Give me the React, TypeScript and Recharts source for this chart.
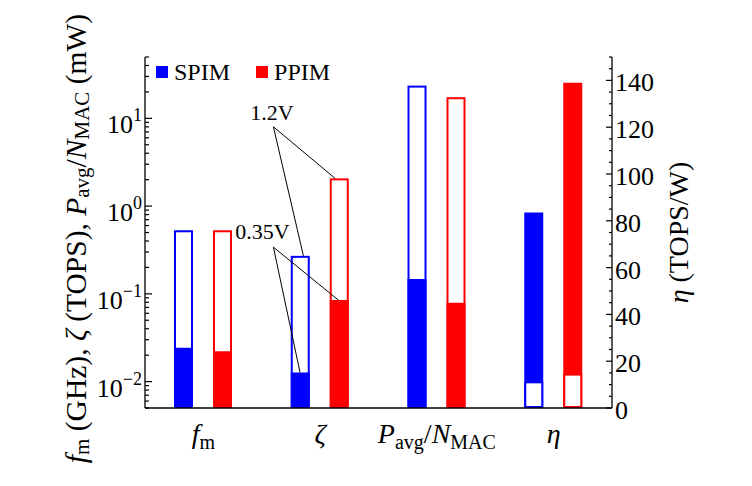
import React from "react";
import {
	Bar,
	ComposedChart,
	Label,
	Legend,
	ReferenceDot,
	ReferenceLine,
	XAxis,
	YAxis,
} from "recharts";

const FONT = "'Liberation Serif', 'Times New Roman', serif";
const BLUE = "#0000ff";
const RED = "#ff0000";

// categories on the x axis
const categories = ["fm", "zeta", "pavg", "eta"];
// centre of each category in plain category units (for the annotation axis)
const categoryPos = [0.5, 1.5, 2.5, 3.5];

// left (log) axis: fm (GHz), zeta (TOPS), Pavg/NMAC (mW)
const spim12 = [0.53, 0.271, 23.6, null];
const spim035 = [0.0243, 0.0127, 0.148, null];
const ppim12 = [0.53, 2.07, 17.4, null];
const ppim035 = [0.0222, 0.085, 0.079, null];

// right axis: eta (TOPS/W)
const spimEta035 = [null, null, null, 83.6];
const spimEta12 = [null, null, null, 11.4];
const ppimEta035 = [null, null, null, 139];
const ppimEta12 = [null, null, null, 14.7];

const seriesNames = ["SPIM", "PPIM"];
const seriesColors = [BLUE, RED];

const leftTicks = [
	0.005, 0.006, 0.007, 0.008, 0.009, 0.01, 0.02, 0.03, 0.04, 0.05, 0.06, 0.07,
	0.08, 0.09, 0.1, 0.2, 0.3, 0.4, 0.5, 0.6, 0.7, 0.8, 0.9, 1, 2, 3, 4, 5, 6, 7,
	8, 9, 10, 20, 30, 40, 50,
];
const rightTicks = [
	0, 5, 10, 15, 20, 25, 30, 35, 40, 45, 50, 55, 60, 65, 70, 75, 80, 85, 90, 95,
	100, 105, 110, 115, 120, 125, 130, 135, 140, 145, 150,
];

// voltage annotations (x in category units, y on the log axis)
const noteLabels = ["1.2V", "0.35V"];
const noteTextPos = [
	{ x: 1.088, y: 11.6 },
	{ x: 1.007, y: 0.52 },
];
const noteAnchor = [
	{ x: 1.1, y: 8.0 },
	{ x: 1.1, y: 0.34 },
];
const noteTargets = [
	[
		{ x: 1.628, y: ppim12[1] },
		{ x: 1.357, y: spim12[1] },
	],
	[
		{ x: 1.656, y: ppim035[1] },
		{ x: 1.328, y: spim035[1] },
	],
];

const data = categories.map((cat, i) => ({
	cat,
	pos: categoryPos[i],
	spim12: spim12[i],
	spim035: spim035[i],
	ppim12: ppim12[i],
	ppim035: ppim035[i],
	spimEta035: spimEta035[i],
	spimEta12: spimEta12[i],
	ppimEta035: ppimEta035[i],
	ppimEta12: ppimEta12[i],
}));

const outline = (color: string) => (props: any) => {
	const { x, y, width, height } = props;
	if (!height || height <= 0 || isNaN(y)) return <g />;
	return (
		<rect
			x={x + 1}
			y={y + 1}
			width={width - 2}
			height={height - 2}
			fill="#fff"
			stroke={color}
			strokeWidth={2}
		/>
	);
};

function LeftTick({ x, y, payload }: any) {
	const v = payload.value;
	const e = Math.round(Math.log10(v));
	const major = Math.abs(Math.log10(v) - e) < 1e-6;
	return (
		<g>
			<line
				x1={x}
				x2={x + (major ? 7 : 4)}
				y1={y}
				y2={y}
				stroke="#000"
				strokeWidth={1.2}
			/>
			{major && (
				<text
					x={x - 3}
					y={y + 15}
					textAnchor="end"
					fontSize={26}
					fontFamily={FONT}
					fill="#000"
				>
					10
					<tspan dy={-12} fontSize={18}>
						{e < 0 ? `\u2212${-e}` : `${e}`}
					</tspan>
				</text>
			)}
		</g>
	);
}

function RightTick({ x, y, payload }: any) {
	const v = payload.value;
	const major = v % 20 === 0 && v < 150;
	return (
		<g>
			<line
				x1={x}
				x2={x - (major ? 6 : 3)}
				y1={y}
				y2={y}
				stroke="#000"
				strokeWidth={1.2}
			/>
			{major && (
				<text
					x={x + 3}
					y={y + 11}
					fontSize={26}
					fontFamily={FONT}
					fill="#000"
				>
					{v}
				</text>
			)}
		</g>
	);
}

function CatTick({ x, y, payload }: any) {
	const base = {
		x,
		y: y + 35,
		textAnchor: "middle" as const,
		fontSize: 28,
		fontFamily: FONT,
		fill: "#000",
		style: { whiteSpace: "pre" as const },
	};
	switch (payload.value) {
		case "fm":
			return (
				<text {...base}>
					<tspan fontStyle="italic">f</tspan>
					<tspan fontSize={20} dy={6}>m</tspan>
				</text>
			);
		case "zeta":
			return (
				<text {...base}>
					<tspan fontStyle="italic">ζ</tspan>
				</text>
			);
		case "pavg":
			return (
				<text {...base}>
					<tspan fontStyle="italic">P</tspan>
					<tspan fontSize={20} dy={6}>avg</tspan>
					<tspan dy={-6}>/</tspan>
					<tspan fontStyle="italic">N</tspan>
					<tspan fontSize={20} dy={6}>MAC</tspan>
				</text>
			);
		default:
			return (
				<text {...base}>
					<tspan fontStyle="italic">η</tspan>
				</text>
			);
	}
}

function LeftTitle({ viewBox }: any) {
	const cx = viewBox.x + 11;
	const cy = viewBox.y + viewBox.height / 2 + 6;
	return (
		<text
			transform={`translate(${cx},${cy}) rotate(-90)`}
			textAnchor="middle"
			dominantBaseline="central"
			fontSize={29.5}
			fontFamily={FONT}
			fill="#000"
			style={{ whiteSpace: "pre" }}
		>
			<tspan fontStyle="italic">f</tspan>
			<tspan fontSize={21} dy={6}>m</tspan>
			<tspan dy={-6}> (GHz), </tspan>
			<tspan fontStyle="italic">ζ</tspan>
			<tspan> (TOPS), </tspan>
			<tspan fontStyle="italic">P</tspan>
			<tspan fontSize={21} dy={6}>avg</tspan>
			<tspan dy={-6}>/</tspan>
			<tspan fontStyle="italic">N</tspan>
			<tspan fontSize={21} dy={6}>MAC</tspan>
			<tspan dy={-6}> (mW)</tspan>
		</text>
	);
}

function RightTitle({ viewBox }: any) {
	const cx = viewBox.x + 66;
	const cy = viewBox.y + viewBox.height / 2;
	return (
		<text
			transform={`translate(${cx},${cy}) rotate(-90)`}
			textAnchor="middle"
			dominantBaseline="central"
			fontSize={28}
			fontFamily={FONT}
			fill="#000"
			style={{ whiteSpace: "pre" }}
		>
			<tspan fontStyle="italic">η</tspan>
			<tspan> (TOPS/W)</tspan>
		</text>
	);
}

function LegendContent() {
	return (
		<div
			style={{
				display: "flex",
				alignItems: "center",
				fontFamily: FONT,
				fontSize: 24,
				lineHeight: "24px",
				color: "#000",
			}}
		>
			{seriesNames.map((name, i) => (
				<div
					key={name}
					style={{ display: "flex", alignItems: "center", marginRight: 26 }}
				>
					<div
						style={{
							width: 12,
							height: 12,
							background: seriesColors[i],
							marginRight: 6,
						}}
					/>
					<span>{name}</span>
				</div>
			))}
		</div>
	);
}

export default function App() {
	const axisLine = { stroke: "#000", strokeWidth: 1.3 };
	return (
		<div
			style={{
				position: "absolute",
				left: 0,
				top: 0,
				width: 752,
				height: 486,
				background: "#fff",
			}}
		>
			<ComposedChart
				width={752}
				height={486}
				data={data}
				margin={{ top: 57, right: 60, bottom: 38, left: 65 }}
				barGap={20}
			>
				<XAxis
					xAxisId="f"
					dataKey="cat"
					height={40}
					axisLine={axisLine}
					tickLine={false}
					tickSize={0}
					tickMargin={0}
					tick={<CatTick />}
					interval={0}
				/>
				<XAxis xAxisId="o" dataKey="cat" hide />
				<XAxis xAxisId="fe" dataKey="cat" hide />
				<XAxis xAxisId="oe" dataKey="cat" hide />
				<XAxis
					xAxisId="top"
					dataKey="cat"
					orientation="top"
					height={0}
					tick={false}
					tickLine={false}
					axisLine={axisLine}
				/>
				<XAxis
					xAxisId="u"
					dataKey="pos"
					type="number"
					scale="linear"
					domain={[0, 4]}
					allowDataOverflow
					hide
				/>
				<YAxis
					yAxisId="left"
					scale="log"
					type="number"
					domain={[0.005, 50]}
					allowDataOverflow
					ticks={leftTicks}
					interval={0}
					tick={<LeftTick />}
					tickLine={false}
					tickSize={0}
					tickMargin={0}
					axisLine={axisLine}
					width={80}
				>
					<Label content={(p: any) => <LeftTitle viewBox={p.viewBox} />} />
				</YAxis>
				<YAxis
					yAxisId="right"
					orientation="right"
					type="number"
					domain={[0, 150]}
					allowDataOverflow
					ticks={rightTicks}
					interval={0}
					tick={<RightTick />}
					tickLine={false}
					tickSize={0}
					tickMargin={0}
					axisLine={axisLine}
					width={80}
				>
					<Label content={(p: any) => <RightTitle viewBox={p.viewBox} />} />
				</YAxis>
				<Legend
					layout="horizontal"
					verticalAlign="middle"
					align="center"
					wrapperStyle={{ top: 60, left: 156, width: "auto", height: "auto" }}
					content={<LegendContent />}
				/>

				{/* 1.2V outlines behind the 0.35V fills */}
				<Bar xAxisId="o" yAxisId="left" dataKey="spim12" barSize={19} shape={outline(BLUE)} isAnimationActive={false} />
				<Bar xAxisId="o" yAxisId="left" dataKey="ppim12" barSize={19} shape={outline(RED)} isAnimationActive={false} />
				<Bar xAxisId="f" yAxisId="left" dataKey="spim035" barSize={19} fill={BLUE} isAnimationActive={false} />
				<Bar xAxisId="f" yAxisId="left" dataKey="ppim035" barSize={19} fill={RED} isAnimationActive={false} />

				{/* eta: 0.35V fill, 1.2V outline on top */}
				<Bar xAxisId="fe" yAxisId="right" dataKey="spimEta035" barSize={19} fill={BLUE} isAnimationActive={false} />
				<Bar xAxisId="fe" yAxisId="right" dataKey="ppimEta035" barSize={19} fill={RED} isAnimationActive={false} />
				<Bar xAxisId="oe" yAxisId="right" dataKey="spimEta12" barSize={19} shape={outline(BLUE)} isAnimationActive={false} />
				<Bar xAxisId="oe" yAxisId="right" dataKey="ppimEta12" barSize={19} shape={outline(RED)} isAnimationActive={false} />

				{noteTargets.map((targets, i) =>
					targets.map((t, j) => (
						<ReferenceLine
							key={`n${i}${j}`}
							xAxisId="u"
							yAxisId="left"
							segment={[noteAnchor[i], t]}
							stroke="#000"
							strokeWidth={1}
							ifOverflow="visible"
						/>
					)),
				)}
				{noteLabels.map((text, i) => (
					<ReferenceDot
						key={text}
						xAxisId="u"
						yAxisId="left"
						x={noteTextPos[i].x}
						y={noteTextPos[i].y}
						r={0}
						fill="none"
						stroke="none"
						ifOverflow="visible"
						label={{
							value: text,
							position: "center",
							fontSize: 22,
							fontFamily: FONT,
							fill: "#000",
						}}
					/>
				))}
			</ComposedChart>
		</div>
	);
}
